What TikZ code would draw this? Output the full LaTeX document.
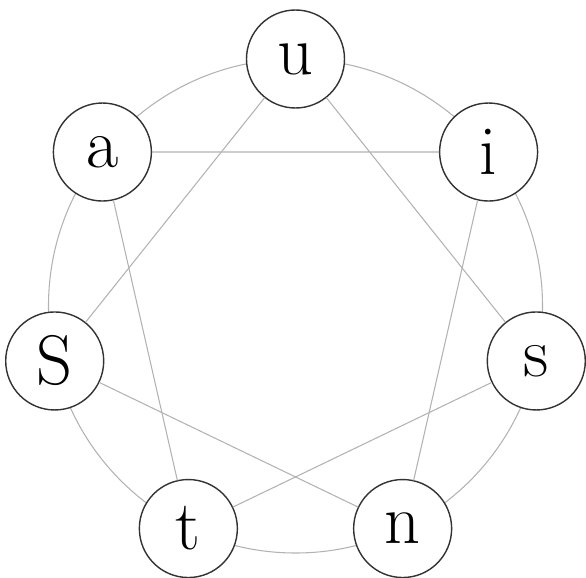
\documentclass[tikz,border=0pt]{standalone}
\usepackage{tikz}
\tikzset{
  letv/.style={circle, draw=black!80, fill=white, line width=0.8pt, minimum size=1.96cm, inner sep=0pt, font=\fontsize{40}{42}\selectfont},
  ring/.style={draw=black!30, line width=0.6pt},
  every picture/.style={line cap=round, line join=round}
}

\begin{document}
\begin{tikzpicture}
    \useasboundingbox (-5.91,-5.42) rectangle (5.81,6.12);
    \draw[ring] (0,0) circle (4.94);
    \foreach \name/\ang in {
      u/90, i/38.57, s/-12.86, n/-64.29,
      t/-115.71, S/-167.14, a/141.43}
    {
      \node[letv] (\name) at (\ang:4.94) {\name};
    }

    \draw[ring] (u)--(s) (s)--(t) (t)--(a) (a)--(i);
    \draw[ring] (i)--(n) (n)--(S) (S)--(u);
\end{tikzpicture}
\end{document}
